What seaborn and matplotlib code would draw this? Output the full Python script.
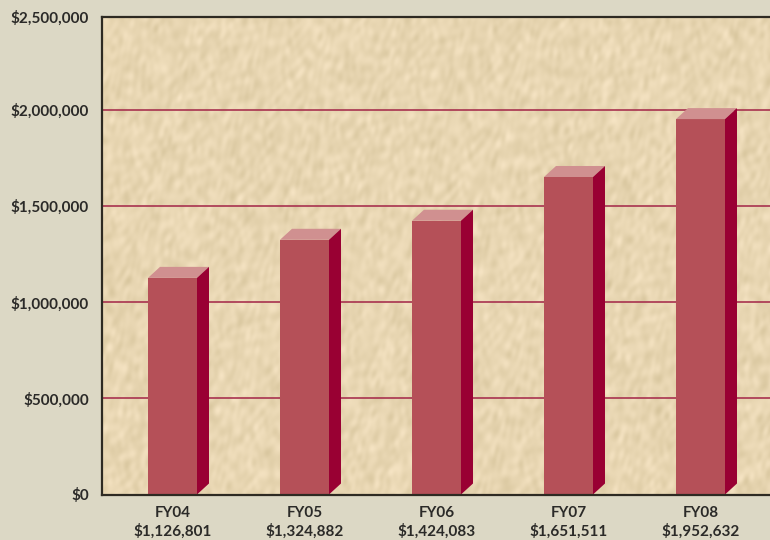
import numpy as np
import matplotlib
matplotlib.use("Agg")
import matplotlib.pyplot as plt
from matplotlib.patches import Polygon
import pandas as pd
import seaborn as sns

# chart data
years = ["FY04", "FY05", "FY06", "FY07", "FY08"]
funding = [1126801, 1324882, 1424083, 1651511, 1952632]
grid_values = [500000, 1000000, 1500000, 2000000]
y_labels = ["$0", "$500,000", "$1,000,000", "$1,500,000", "$2,000,000", "$2,500,000"]

sns.set_theme(style="white")
plt.rcParams["font.family"] = ["Lato", "DejaVu Sans"]

PAGE = "#dcd8c5"
FRONT = "#b55058"
TOP = "#d09090"
SIDE = "#990033"
GRID = "#a8324f"
TEXT = "#2b2a28"

fig = plt.figure(figsize=(7.7, 5.4), dpi=100, facecolor=PAGE)
ax = fig.add_axes([102 / 770, 45.5 / 540, 668 / 770, 477.5 / 540])

# parchment texture, sum of sines so it stays deterministic
yy, xx = np.mgrid[0:478, 0:668]
tex = np.zeros(xx.shape)
for k in range(1, 40):
    a = k * 2.399
    f = 0.06 + 0.012 * k
    warp = 6 * np.sin(xx * 0.031 * (1 + k % 3) + yy * 0.023 + k)
    tex += np.sin(f * (xx * np.cos(a) + yy * np.sin(a)) + warp + k * 1.3)
tex = (tex - tex.mean()) / tex.std()
base = np.array([232, 214, 178]) / 255
bg = np.clip(base + tex[..., None] * np.array([4, 4, 5]) / 255, 0, 1)
ax.imshow(bg, extent=(0, 1, 0, 1), transform=ax.transAxes, aspect="auto", zorder=0)

df = pd.DataFrame({"year": years, "funding": funding})
sns.barplot(data=df, x="year", y="funding", color=FRONT, saturation=1, width=49 / 132,
            ax=ax, zorder=3)

px_x = 1 / 132
px_y = 500000 / 96.125
y_top = 477.5 * px_y
ax.set_xlim(-70.5 * px_x, 597.5 * px_x)
ax.set_ylim(0, y_top)

for g in grid_values:
    ax.axhline(g, color=GRID, lw=1.2, zorder=1)

# fake 3D faces on each bar
dx = 12 * px_x
dy = 11 * px_y
for bar in ax.patches:
    bar.set_edgecolor("none")
    x0 = bar.get_x()
    x1 = x0 + bar.get_width()
    h = bar.get_height()
    ax.add_patch(Polygon([(x0, h), (x1, h), (x1 + dx, h + dy), (x0 + dx, h + dy)],
                         facecolor=TOP, edgecolor="none", zorder=3))
    ax.add_patch(Polygon([(x1, 0), (x1 + dx, dy), (x1 + dx, h + dy), (x1, h)],
                         facecolor=SIDE, edgecolor="none", zorder=3))

ax.set_yticks([0] + grid_values + [y_top], labels=y_labels)
ax.set_xticks(range(len(years)), labels=[f"{y}\n${v:,}" for y, v in zip(years, funding)])
ax.set_xlabel("")
ax.set_ylabel("")
ax.tick_params(length=0)
ax.tick_params(axis="y", pad=9.5)
ax.tick_params(axis="x", pad=8)
for lab in ax.get_xticklabels() + ax.get_yticklabels():
    lab.set_fontsize(11)
    lab.set_fontweight("bold")
    lab.set_color(TEXT)
for lab in ax.get_xticklabels():
    lab.set_linespacing(1.3)

ax.spines["right"].set_visible(False)
for side in ["left", "top", "bottom"]:
    ax.spines[side].set_color("#2e2a22")
    ax.spines[side].set_linewidth(1.6)
    ax.spines[side].set_zorder(5)

fig.savefig("out.png", dpi=100, facecolor=PAGE)
